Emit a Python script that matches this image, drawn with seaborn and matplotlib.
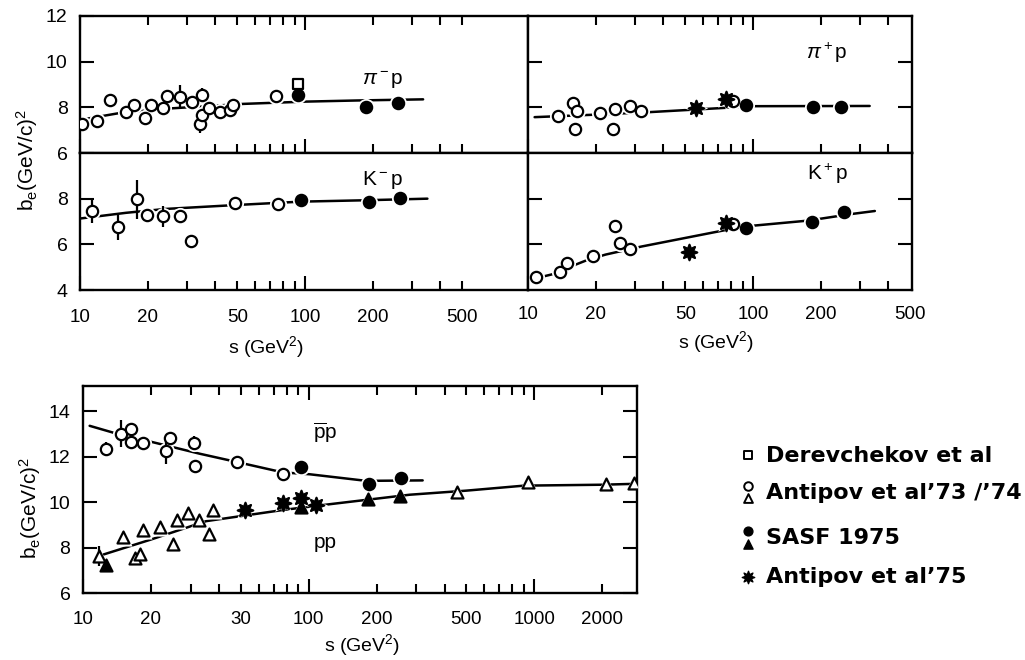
import matplotlib
matplotlib.use("Agg")
import matplotlib.pyplot as plt
import matplotlib.transforms as mtransforms
import seaborn as sns
from matplotlib.ticker import FixedLocator, NullFormatter

# ---------------- data: slope parameter b_e vs s ----------------
# pi- p
pim_open_s = [10.2, 11.9, 13.6, 16.0, 17.3, 19.4, 20.6, 23.3, 24.4, 27.8, 31.6, 34.7, 34.0, 34.7, 37.6, 41.9, 46.4, 48.0, 74.3]
pim_open_b = [7.26, 7.39, 8.30, 7.79, 8.12, 7.53, 8.11, 7.98, 8.51, 8.47, 8.22, 8.56, 7.27, 7.68, 7.97, 7.79, 7.87, 8.12, 8.49]
pim_open_err = [0, 0, 0, 0, 0, 0, 0, 0, 0, 0.5, 0, 0.3, 0.4, 0, 0, 0.2, 0.2, 0, 0]
pim_sq_s = [92.7]
pim_sq_b = [9.04]
pim_fill_s = [92.7, 186, 260]
pim_fill_b = [8.52, 8.03, 8.21]
pim_fit_s = [10, 15, 25, 53, 100, 170, 335]
pim_fit_b = [7.45, 7.75, 7.95, 8.15, 8.25, 8.30, 8.35]

# pi+ p
pip_open_s = [13.6, 15.8, 16.5, 16.1, 20.8, 24.3, 23.9, 28.5, 31.9, 81.5]
pip_open_b = [7.61, 8.21, 7.86, 7.07, 7.74, 7.93, 7.07, 8.07, 7.86, 8.27]
pip_star_s = [56.0, 76.2]
pip_star_b = [7.98, 8.36]
pip_fill_s = [92.7, 184, 247]
pip_fill_b = [8.09, 8.02, 8.03]
pip_fit_s = [10.7, 20, 34.7, 76, 100, 330]
pip_fit_b = [7.57, 7.68, 7.79, 7.98, 8.05, 8.06]

# K- p
kmp_open_s = [11.3, 14.8, 17.9, 19.8, 23.5, 27.8, 31.3, 48.9, 76.0]
kmp_open_b = [7.45, 6.75, 7.97, 7.28, 7.23, 7.23, 6.13, 7.79, 7.76]
kmp_open_err = [0.5, 0.55, 0.85, 0, 0.45, 0, 0.25, 0, 0]
kmp_fill_s = [95.9, 193, 264]
kmp_fill_b = [7.96, 7.87, 8.03]
kmp_fit_s = [10, 16, 24, 49, 96, 185, 350]
kmp_fit_b = [7.13, 7.38, 7.55, 7.72, 7.87, 7.93, 8.00]

# K+ p
kpp_open_s = [10.9, 13.9, 14.9, 19.4, 24.4, 25.7, 28.5, 81.5]
kpp_open_b = [4.55, 4.77, 5.19, 5.48, 6.79, 6.04, 5.81, 6.90]
kpp_star_s = [51.7, 76.0]
kpp_star_b = [5.65, 6.95]
kpp_fill_s = [93.3, 183, 254]
kpp_fill_b = [6.70, 6.96, 7.41]
kpp_fit_s = [10.9, 13.1, 15.7, 18.2, 22.1, 31.8, 75, 101, 176, 275, 348]
kpp_fit_b = [4.52, 4.71, 5.05, 5.30, 5.55, 5.90, 6.62, 6.82, 7.04, 7.33, 7.46]

# pbar p
pbp_open_s = [12.6, 14.8, 16.3, 16.3, 18.5, 24.3, 23.4, 31.0, 31.3, 48.2, 76.6]
pbp_open_b = [12.32, 13.0, 13.2, 12.66, 12.61, 12.8, 12.25, 12.61, 11.59, 11.76, 11.24]
pbp_open_err = [0.3, 0.6, 0.2, 0, 0, 0.25, 0.6, 0.3, 0, 0, 0]
pbp_fill_s = [92.9, 186, 257]
pbp_fill_b = [11.52, 10.78, 11.06]
pbp_fill_err = [0, 0.2, 0]
pbp_fit_s = [10.7, 13.6, 20, 33, 48, 77, 101, 180, 320]
pbp_fit_b = [13.35, 13.05, 12.65, 12.12, 11.76, 11.30, 11.22, 10.93, 10.95]

# p p
pp_open_s = [11.8, 15.0, 17.0, 17.9, 18.5, 21.9, 25.1, 26.0, 29.2, 32.7, 36.3, 37.8, 453, 934, 2075, 2770]
pp_open_b = [7.62, 8.46, 7.52, 7.72, 8.75, 8.90, 8.16, 9.23, 9.53, 9.20, 8.60, 9.67, 10.45, 10.89, 10.81, 10.83]
pp_open_err = [0.45, 0, 0, 0, 0, 0, 0, 0, 0, 0, 0, 0, 0, 0, 0, 0]
pp_fill_s = [12.6, 92.9, 183, 253]
pp_fill_b = [7.25, 9.76, 10.12, 10.26]
pp_star_s = [52.1, 76.9, 92.2, 108]
pp_star_b = [9.67, 9.97, 10.16, 9.86]
pp_fit_s = [12.3, 20, 28.7, 35.2, 77, 128, 280, 500, 900, 2000, 2800]
pp_fit_b = [7.69, 8.35, 8.87, 9.16, 9.65, 9.92, 10.32, 10.50, 10.72, 10.76, 10.80]

# axis tick values and labels
top_major = [10, 100]
top_minor = [20, 30, 40, 50, 60, 70, 80, 90, 200, 300, 400, 500]
top_labels = ["10", "20", "50", "100", "200", "500"]
top_label_pos = [10, 20, 50, 100, 200, 500]
pp_major = [10, 100, 1000]
pp_minor = [20, 30, 40, 50, 60, 70, 80, 90, 200, 300, 400, 500, 600, 700, 800, 900, 2000]
pp_label_pos = [10, 20, 50, 100, 200, 500, 1000, 2000]
pp_labels = ["10", "20", "30", "100", "200", "500", "1000", "2000"]

legend_entries = ["Derevchekov et al", "Antipov et al\u201973 /\u201974", "SASF 1975", "Antipov et al\u201975"]

# ---------------- style ----------------
sns.set_theme(style="ticks")
plt.rcParams.update({
    "font.family": ["Liberation Sans", "DejaVu Sans"],
    "mathtext.fontset": "custom",
    "mathtext.rm": "Liberation Sans",
    "mathtext.it": "Liberation Sans:italic",
    "mathtext.bf": "Liberation Sans:bold",
    "axes.linewidth": 1.7,
    "axes.edgecolor": "black",
    "text.color": "black",
    "xtick.color": "black",
    "ytick.color": "black",
})

INK = "black"
STAR = (8, 1, 0)
SIZES = {"o": 66, "s": 58, "^": 74, STAR: 125}


def setup(ax, xmax, ylim, major, minor, label_pos, labels, yticks, ylabels,
          labelbottom, top, right, label_drop):
    ax.set_xscale("log")
    ax.set_xlim(10, xmax)
    ax.set_ylim(*ylim)
    ax.xaxis.set_major_locator(FixedLocator(major))
    ax.xaxis.set_minor_locator(FixedLocator(minor))
    ax.xaxis.set_major_formatter(NullFormatter())
    ax.xaxis.set_minor_formatter(NullFormatter())
    ax.tick_params(axis="x", which="major", direction="in", length=10, width=1.5,
                   top=top, bottom=True, labelbottom=False)
    ax.tick_params(axis="x", which="minor", direction="in", length=6.5, width=1.5,
                   top=top, bottom=True, labelbottom=False)
    ax.set_yticks(yticks)
    if ylabels is not None:
        ax.set_yticklabels(ylabels, fontsize=14)
        ax.tick_params(axis="y", labelleft=True, pad=9)
    else:
        ax.tick_params(axis="y", labelleft=False)
    ax.tick_params(axis="y", direction="in", length=10, width=1.5, left=True, right=right)
    ax.set_xlabel("")
    ax.set_ylabel("")
    if labelbottom:
        # tick labels placed a fixed number of pixels below the bottom spine
        trans = ax.get_xaxis_transform() + mtransforms.ScaledTranslation(
            0, -label_drop / 100, ax.figure.dpi_scale_trans)
        for v, t in zip(label_pos, labels):
            ax.text(v, 0, t, transform=trans, ha="center", va="center", fontsize=13.5)


def points(ax, s, b, marker, filled, err=None):
    size = SIZES[marker]
    # white halo that breaks the fitted line around each symbol
    sns.scatterplot(x=s, y=b, ax=ax, marker=marker, s=size * 2.3, color="white",
                    edgecolor="white", linewidth=0, zorder=2, legend=False)
    if err is not None:
        for si, bi, ei in zip(s, b, err):
            if ei > 0:
                ax.vlines(si, bi - ei, bi + ei, color=INK, lw=1.6, zorder=3)
    sns.scatterplot(x=s, y=b, ax=ax, marker=marker, s=size,
                    color=INK if filled else "white", edgecolor=INK,
                    linewidth=1.6, zorder=4, legend=False)


def fit(ax, s, b):
    sns.lineplot(x=s, y=b, ax=ax, color=INK, lw=1.8, estimator=None, sort=True,
                 zorder=1.5, legend=False)


W, H = 1025, 660
fig = plt.figure(figsize=(W / 100, H / 100), dpi=100)


def box(x0, y0, x1, y1):
    return [x0 / W, 1 - y1 / H, (x1 - x0) / W, (y1 - y0) / H]


ax_pim = fig.add_axes(box(80, 16, 528, 153))
ax_kmp = fig.add_axes(box(80, 153, 528, 290))
ax_pip = fig.add_axes(box(528, 16, 912, 153))
ax_kpp = fig.add_axes(box(528, 153, 912, 290))
ax_pp = fig.add_axes(box(83, 386, 637, 593))

for a in (ax_pim, ax_kmp, ax_pip, ax_kpp, ax_pp):
    a.set_xscale("log")

# pi- p
fit(ax_pim, pim_fit_s, pim_fit_b)
points(ax_pim, pim_open_s, pim_open_b, "o", False, pim_open_err)
points(ax_pim, pim_sq_s, pim_sq_b, "s", False)
points(ax_pim, pim_fill_s, pim_fill_b, "o", True)
# pi+ p
fit(ax_pip, pip_fit_s, pip_fit_b)
points(ax_pip, pip_open_s, pip_open_b, "o", False)
points(ax_pip, pip_star_s, pip_star_b, STAR, True)
points(ax_pip, pip_fill_s, pip_fill_b, "o", True)
# K- p
fit(ax_kmp, kmp_fit_s, kmp_fit_b)
points(ax_kmp, kmp_open_s, kmp_open_b, "o", False, kmp_open_err)
points(ax_kmp, kmp_fill_s, kmp_fill_b, "o", True)
# K+ p
fit(ax_kpp, kpp_fit_s, kpp_fit_b)
points(ax_kpp, kpp_open_s, kpp_open_b, "o", False)
points(ax_kpp, kpp_star_s, kpp_star_b, STAR, True)
points(ax_kpp, kpp_fill_s, kpp_fill_b, "o", True)
# pbar p and p p
fit(ax_pp, pbp_fit_s, pbp_fit_b)
fit(ax_pp, pp_fit_s, pp_fit_b)
points(ax_pp, pbp_open_s, pbp_open_b, "o", False, pbp_open_err)
points(ax_pp, pbp_fill_s, pbp_fill_b, "o", True, pbp_fill_err)
points(ax_pp, pp_open_s, pp_open_b, "^", False, pp_open_err)
points(ax_pp, pp_star_s, pp_star_b, STAR, True)
points(ax_pp, pp_fill_s, pp_fill_b, "^", True)

setup(ax_pim, 980, (6, 12), top_major, top_minor, top_label_pos, top_labels,
      [6, 8, 10, 12], ["6", "8", "10", "12"], False, True, False, 0)
setup(ax_kmp, 980, (4, 10), top_major, top_minor, top_label_pos, top_labels,
      [4, 6, 8], ["4", "6", "8"], True, False, False, 27)
setup(ax_pip, 509, (6, 12), top_major, top_minor[:-1], top_label_pos, top_labels,
      [8, 10], None, False, True, True, 0)
setup(ax_kpp, 509, (4, 10), top_major, top_minor[:-1], top_label_pos, top_labels,
      [6, 8], None, True, False, True, 24)
setup(ax_pp, 2850, (6, 15.1), pp_major, pp_minor, pp_label_pos, pp_labels,
      [6, 8, 10, 12, 14], ["6", "8", "10", "12", "14"], True, True, True, 26)

# reaction labels
ax_pim.text(0.676, 0.53, r"$\pi^-$p", transform=ax_pim.transAxes, fontsize=15, ha="center", va="center")
ax_kmp.text(0.676, 0.80, r"K$^-$p", transform=ax_kmp.transAxes, fontsize=15, ha="center", va="center")
ax_pip.text(0.779, 0.73, r"$\pi^+$p", transform=ax_pip.transAxes, fontsize=15, ha="center", va="center")
ax_kpp.text(0.779, 0.85, r"K$^+$p", transform=ax_kpp.transAxes, fontsize=15, ha="center", va="center")
ax_pp.text(0.437, 0.773, r"$\overline{\rm p}$p", transform=ax_pp.transAxes, fontsize=15, ha="center", va="center")
ax_pp.text(0.437, 0.242, "pp", transform=ax_pp.transAxes, fontsize=15, ha="center", va="center")

# axis titles
ylab = r"b$_{\rm e}$(GeV/c)$^2$"
xlab = r"s (GeV$^2$)"
fig.text(27 / W, 1 - 160 / H, ylab, rotation=90, fontsize=15, ha="center", va="center")
fig.text(30 / W, 1 - 508 / H, ylab, rotation=90, fontsize=15, ha="center", va="center")
fig.text(266 / W, 1 - 347 / H, xlab, fontsize=14, ha="center", va="center")
fig.text(716 / W, 1 - 342 / H, xlab, fontsize=14, ha="center", va="center")
fig.text(362 / W, 1 - 645 / H, xlab, fontsize=14, ha="center", va="center")

# key
key = fig.add_axes([0, 0, 1, 1], facecolor="none")
key.set_xlim(0, W)
key.set_ylim(H, 0)
key.axis("off")
sym_x = 748
sns.scatterplot(x=[sym_x], y=[455], ax=key, marker="s", s=38, color="white", edgecolor=INK, linewidth=1.4, legend=False)
sns.scatterplot(x=[sym_x], y=[486], ax=key, marker="o", s=38, color="white", edgecolor=INK, linewidth=1.4, legend=False)
sns.scatterplot(x=[sym_x], y=[498], ax=key, marker="^", s=40, color="white", edgecolor=INK, linewidth=1.4, legend=False)
sns.scatterplot(x=[sym_x], y=[531], ax=key, marker="o", s=40, color=INK, edgecolor=INK, linewidth=1, legend=False)
sns.scatterplot(x=[sym_x], y=[544], ax=key, marker="^", s=44, color=INK, edgecolor=INK, linewidth=1, legend=False)
sns.scatterplot(x=[sym_x], y=[577], ax=key, marker=STAR, s=80, color=INK, edgecolor=INK, linewidth=1, legend=False)
for ty, txt in zip([456, 493, 538, 577], legend_entries):
    key.text(766, ty, txt, fontsize=16, fontweight="bold", family="DejaVu Sans",
             ha="left", va="center")

fig.savefig("out.png", dpi=100)
